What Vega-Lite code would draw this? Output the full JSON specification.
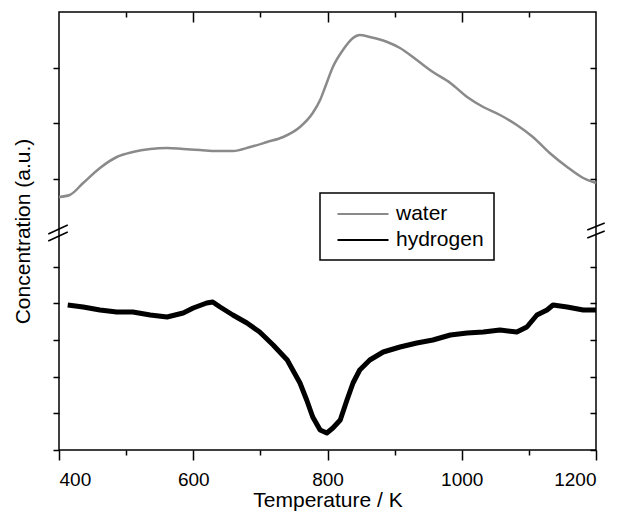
{
  "$schema": "https://vega.github.io/schema/vega-lite/v6.json",
  "width": 537,
  "height": 438,
  "autosize": {"type": "none"},
  "padding": {"left": 59, "top": 12, "right": 21, "bottom": 61},
  "background": "white",
  "config": {
    "view": {"stroke": "black", "strokeWidth": 1.5},
    "font": "Liberation Sans",
    "axis": {
      "domain": false, "grid": false, "tickColor": "black", "tickWidth": 1.5,
      "labelFont": "Liberation Sans", "labelFontSize": 19, "labelColor": "black",
      "titleFont": "Liberation Sans", "titleFontSize": 21, "titleFontWeight": "normal", "titleColor": "black"
    },
    "legend": {
      "orient": "none", "legendX": 261, "legendY": 181,
      "strokeColor": "black", "strokeWidth": 1.5, "padding": 10,
      "symbolType": "M-2.55,0H2.55", "symbolSize": 400, "symbolStrokeWidth": 2,
      "symbolOffset": 22, "labelOffset": 22, "rowPadding": 5,
      "labelFont": "Liberation Sans", "labelFontSize": 21, "labelColor": "black",
      "fillColor": "white"
    }
  },
  "datasets": {
    "water": [
      {"T": 400, "c": 253, "series": "water"}, {"T": 416, "c": 255, "series": "water"},
      {"T": 436, "c": 267, "series": "water"}, {"T": 461, "c": 282, "series": "water"},
      {"T": 486, "c": 293, "series": "water"}, {"T": 510, "c": 298, "series": "water"},
      {"T": 536, "c": 301, "series": "water"}, {"T": 561, "c": 302, "series": "water"},
      {"T": 585, "c": 301, "series": "water"}, {"T": 610, "c": 300, "series": "water"},
      {"T": 635, "c": 299, "series": "water"}, {"T": 659, "c": 299, "series": "water"},
      {"T": 685, "c": 303, "series": "water"}, {"T": 710, "c": 308, "series": "water"},
      {"T": 734, "c": 313, "series": "water"}, {"T": 759, "c": 323, "series": "water"},
      {"T": 778, "c": 337, "series": "water"}, {"T": 789, "c": 350, "series": "water"},
      {"T": 796, "c": 362, "series": "water"}, {"T": 808, "c": 383, "series": "water"},
      {"T": 823, "c": 400, "series": "water"}, {"T": 838, "c": 412, "series": "water"},
      {"T": 848, "c": 415, "series": "water"}, {"T": 863, "c": 413, "series": "water"},
      {"T": 889, "c": 408, "series": "water"}, {"T": 908, "c": 402, "series": "water"},
      {"T": 933, "c": 390, "series": "water"}, {"T": 957, "c": 378, "series": "water"},
      {"T": 983, "c": 367, "series": "water"}, {"T": 1008, "c": 353, "series": "water"},
      {"T": 1032, "c": 343, "series": "water"}, {"T": 1057, "c": 335, "series": "water"},
      {"T": 1082, "c": 325, "series": "water"}, {"T": 1106, "c": 313, "series": "water"},
      {"T": 1131, "c": 297, "series": "water"}, {"T": 1157, "c": 283, "series": "water"},
      {"T": 1181, "c": 272, "series": "water"}, {"T": 1200, "c": 267, "series": "water"}
    ],
    "hydrogen": [
      {"T": 413, "c": 145, "series": "hydrogen"}, {"T": 436, "c": 143, "series": "hydrogen"},
      {"T": 461, "c": 140, "series": "hydrogen"}, {"T": 486, "c": 138, "series": "hydrogen"},
      {"T": 510, "c": 138, "series": "hydrogen"}, {"T": 536, "c": 135, "series": "hydrogen"},
      {"T": 561, "c": 133, "series": "hydrogen"}, {"T": 585, "c": 137, "series": "hydrogen"},
      {"T": 600, "c": 142, "series": "hydrogen"}, {"T": 620, "c": 147, "series": "hydrogen"},
      {"T": 629, "c": 148, "series": "hydrogen"}, {"T": 640, "c": 143, "series": "hydrogen"},
      {"T": 659, "c": 135, "series": "hydrogen"}, {"T": 680, "c": 127, "series": "hydrogen"},
      {"T": 699, "c": 118, "series": "hydrogen"}, {"T": 719, "c": 105, "series": "hydrogen"},
      {"T": 740, "c": 90, "series": "hydrogen"}, {"T": 759, "c": 67, "series": "hydrogen"},
      {"T": 769, "c": 50, "series": "hydrogen"}, {"T": 778, "c": 33, "series": "hydrogen"},
      {"T": 789, "c": 20, "series": "hydrogen"}, {"T": 799, "c": 17, "series": "hydrogen"},
      {"T": 808, "c": 22, "series": "hydrogen"}, {"T": 819, "c": 30, "series": "hydrogen"},
      {"T": 829, "c": 50, "series": "hydrogen"}, {"T": 838, "c": 67, "series": "hydrogen"},
      {"T": 848, "c": 80, "series": "hydrogen"}, {"T": 863, "c": 90, "series": "hydrogen"},
      {"T": 883, "c": 98, "series": "hydrogen"}, {"T": 908, "c": 103, "series": "hydrogen"},
      {"T": 933, "c": 107, "series": "hydrogen"}, {"T": 957, "c": 110, "series": "hydrogen"},
      {"T": 983, "c": 115, "series": "hydrogen"}, {"T": 1008, "c": 117, "series": "hydrogen"},
      {"T": 1032, "c": 118, "series": "hydrogen"}, {"T": 1057, "c": 120, "series": "hydrogen"},
      {"T": 1082, "c": 118, "series": "hydrogen"}, {"T": 1097, "c": 123, "series": "hydrogen"},
      {"T": 1112, "c": 135, "series": "hydrogen"}, {"T": 1127, "c": 140, "series": "hydrogen"},
      {"T": 1136, "c": 145, "series": "hydrogen"}, {"T": 1157, "c": 143, "series": "hydrogen"},
      {"T": 1181, "c": 140, "series": "hydrogen"}, {"T": 1200, "c": 140, "series": "hydrogen"}
    ],
    "breakLeft": [
      {"x1": 384, "x2": 413, "y1": 216, "y2": 225},
      {"x1": 384, "x2": 413, "y1": 209, "y2": 218}
    ],
    "breakRight": [
      {"x1": 1187, "x2": 1213, "y1": 220, "y2": 227},
      {"x1": 1187, "x2": 1213, "y1": 212, "y2": 219}
    ]
  },
  "layer": [
    {
      "data": {"name": "water"},
      "mark": {"type": "line", "strokeWidth": 2.5, "interpolate": "monotone"},
      "encoding": {
        "x": {"field": "T", "type": "quantitative",
              "scale": {"domain": [400, 1200], "nice": false, "zero": false},
              "axis": {"orient": "bottom", "values": [400, 600, 800, 1000, 1200], "tickSize": 10, "labelPadding": 10, "title": "Temperature / K", "titlePadding": 0, "format": "d"}},
        "y": {"field": "c", "type": "quantitative",
              "scale": {"domain": [0, 438], "nice": false, "zero": false},
              "axis": {"orient": "left", "values": [0, 37, 73, 110, 147, 183, 271, 327, 382], "tickSize": 6, "labels": false, "title": "Concentration (a.u.)", "titlePadding": 19}},
        "color": {"field": "series", "type": "nominal",
                  "scale": {"domain": ["water", "hydrogen"], "range": ["#8a8a8a", "#000000"]},
                  "legend": {"title": null}}
      }
    },
    {
      "data": {"name": "hydrogen"},
      "mark": {"type": "line", "strokeWidth": 5, "strokeJoin": "round"},
      "encoding": {
        "x": {"field": "T", "type": "quantitative",
              "axis": {"orient": "top", "values": [600, 800, 1000], "tickSize": -10, "labels": false, "title": null}},
        "y": {"field": "c", "type": "quantitative",
              "axis": {"orient": "right", "values": [0, 37, 73, 110, 147, 183, 271, 327, 382], "tickSize": -6, "labels": false, "title": null}},
        "color": {"field": "series", "type": "nominal"}
      }
    },
    {
      "data": {"name": "breakLeft"},
      "mark": {"type": "rule", "color": "black", "strokeWidth": 1.5, "clip": false},
      "encoding": {
        "x": {"field": "x1", "type": "quantitative",
              "axis": {"orient": "bottom", "values": [500, 700, 900, 1100], "tickSize": 5, "labels": false, "title": null}},
        "x2": {"field": "x2"},
        "y": {"field": "y1", "type": "quantitative", "axis": null},
        "y2": {"field": "y2"}
      }
    },
    {
      "data": {"name": "breakRight"},
      "mark": {"type": "rule", "color": "black", "strokeWidth": 1.5, "clip": false},
      "encoding": {
        "x": {"field": "x1", "type": "quantitative",
              "axis": {"orient": "top", "values": [500, 700, 900, 1100], "tickSize": -5, "labels": false, "title": null}},
        "x2": {"field": "x2"},
        "y": {"field": "y1", "type": "quantitative", "axis": null},
        "y2": {"field": "y2"}
      }
    }
  ],
  "resolve": {"axis": {"x": "independent", "y": "independent"}}
}
